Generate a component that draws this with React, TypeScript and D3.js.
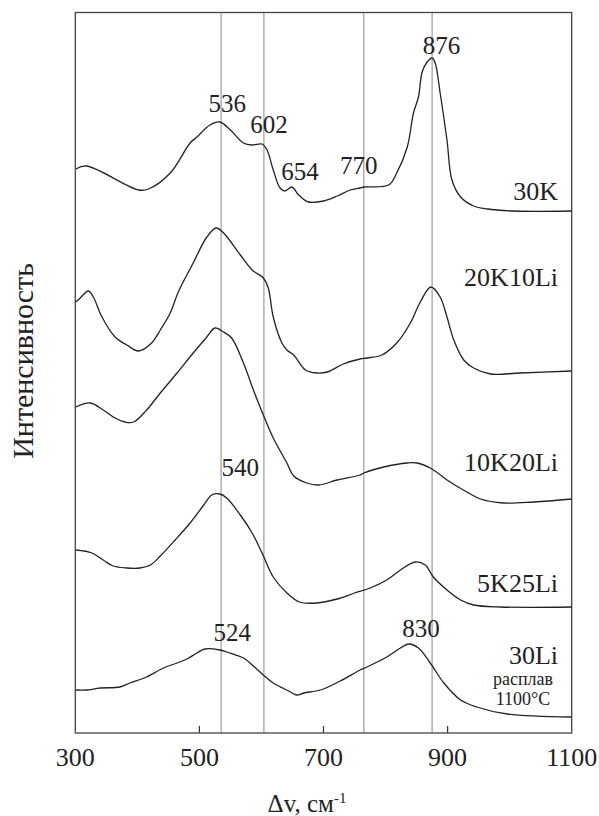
import React from "react";
import * as d3 from "d3";

// Raman shift (cm^-1) and relative intensity (arbitrary units, stacked offsets)
const x30K = [301, 318, 402, 418, 453, 485, 496, 517, 533, 550, 571, 585, 601, 609, 619, 630, 638, 649, 660, 676, 700, 722, 743, 759, 765, 805, 818, 835, 845, 853, 859, 867, 875, 880, 888, 899, 907, 921, 942, 964, 1007, 1100];
const y30K = [564, 567, 543, 544, 560, 590, 596, 608, 611, 603, 590, 588, 589, 583, 563, 545, 542, 546, 538, 531, 532, 537, 543, 545, 546, 548, 560, 586, 620, 636, 661, 671, 675, 670, 640, 593, 553, 536, 527, 524, 522, 522];

const x20K10Li = [301, 308, 321, 329, 343, 364, 383, 402, 423, 437, 453, 466, 490, 512, 527, 539, 566, 585, 603, 611, 619, 633, 641, 652, 671, 689, 706, 732, 759, 770, 794, 818, 840, 856, 873, 888, 899, 910, 926, 942, 969, 1017, 1100];
const y20K10Li = [431, 435, 442, 436, 416, 396, 388, 382, 390, 403, 420, 441, 470, 496, 505, 500, 478, 463, 455, 445, 416, 390, 383, 378, 363, 360, 361, 369, 374, 375, 378, 390, 410, 431, 446, 436, 416, 393, 373, 365, 359, 360, 362];

const x10K20Li = [301, 324, 345, 364, 380, 394, 415, 437, 464, 490, 512, 525, 539, 552, 571, 587, 603, 619, 641, 652, 673, 692, 722, 759, 765, 797, 835, 851, 872, 904, 931, 953, 990, 1039, 1100];
const y10K20Li = [326, 330, 323, 315, 311, 311, 323, 340, 360, 380, 396, 405, 401, 395, 370, 343, 318, 295, 270, 257, 250, 248, 253, 258, 260, 266, 270, 270, 265, 251, 241, 234, 230, 231, 234];

const x5K25Li = [301, 327, 345, 361, 383, 404, 421, 437, 461, 485, 507, 520, 533, 544, 566, 585, 601, 619, 641, 661, 689, 722, 750, 775, 802, 824, 848, 864, 877, 899, 921, 942, 985, 1100];
const y5K25Li = [183, 180, 173, 167, 165, 165, 168, 177, 193, 210, 228, 238, 239, 235, 218, 200, 180, 156, 140, 131, 130, 134, 140, 145, 153, 163, 171, 168, 156, 143, 133, 128, 126, 126];

const x30Li = [301, 318, 340, 372, 388, 415, 442, 464, 480, 496, 509, 533, 544, 571, 587, 603, 619, 644, 657, 668, 695, 727, 759, 770, 802, 824, 837, 853, 872, 894, 921, 947, 996, 1100];
const y30Li = [43, 43, 45, 46, 50, 56, 65, 70, 74, 80, 84, 83, 81, 75, 67, 58, 50, 42, 38, 40, 43, 52, 63, 66, 76, 85, 89, 85, 70, 50, 33, 26, 19, 16];

const seriesNames = ["30K", "20K10Li", "10K20Li", "5K25Li", "30Li"];
const seriesX = [x30K, x20K10Li, x10K20Li, x5K25Li, x30Li];
const seriesY = [y30K, y20K10Li, y10K20Li, y5K25Li, y30Li];

const refLines = [535, 604, 765, 875];
const xTicks = [300, 500, 700, 900, 1100];

// peak annotations: label, x position (cm^-1), intensity position
const peakLabels = ["536", "602", "654", "770", "876", "540", "524", "830"];
const peakX = [545, 612, 662, 757, 890, 566, 553, 857];
const peakY = [621, 600, 553, 559, 679, 257, 92, 96];

const W = 599;
const H = 816;
const left = 75.3;
const right = 571.7;
const top = 12.5;
const bottom = 733;

const FONT = '"Liberation Serif", "Times New Roman"';

export default function App() {
  const x = d3.scaleLinear().domain([300, 1100]).range([left, right]);
  const y = d3.scaleLinear().domain([0, 720]).range([bottom, bottom - 720]);
  const line = d3
    .line<[number, number]>()
    .x((d) => x(d[0]))
    .y((d) => y(d[1]))
    .curve(d3.curveCatmullRom.alpha(0.5));

  const labelBase = [200, 286, 471, 592, 663.5];
  const ts = { fontFamily: FONT };

  return (
    <svg width={W} height={H} style={{ position: "absolute", left: 0, top: 0 }}>
      {refLines.map((v) => (
        <line key={v} x1={x(v)} x2={x(v)} y1={top} y2={bottom} stroke="#8a8a8a" strokeWidth={1} />
      ))}
      {xTicks.slice(1, -1).map((t) => (
        <line key={"t" + t} x1={x(t)} x2={x(t)} y1={bottom} y2={bottom - 7} stroke="#333" strokeWidth={1.2} />
      ))}
      <rect x={left} y={top} width={right - left} height={bottom - top} fill="none" stroke="#444" strokeWidth={1.3} />
      {seriesNames.map((n, i) => {
        const pts = seriesX[i].map((v, j) => [v, seriesY[i][j]] as [number, number]);
        return <path key={n} d={line(pts) || ""} fill="none" stroke="#222" strokeWidth={1.3} />;
      })}
      {seriesNames.map((n, i) => (
        <text key={"l" + n} x={558} y={labelBase[i]} textAnchor="end" fontSize={26} fill="#222" style={ts}>
          {n}
        </text>
      ))}
      <text x={523} y={685} textAnchor="middle" fontSize={18} fill="#222" style={ts}>
        расплав
      </text>
      <text x={523} y={705} textAnchor="middle" fontSize={18} fill="#222" style={ts}>
        1100°C
      </text>
      {peakLabels.map((p, i) => (
        <text key={"p" + i} x={x(peakX[i])} y={y(peakY[i])} textAnchor="middle" fontSize={25} fill="#222" style={ts}>
          {p}
        </text>
      ))}
      {xTicks.map((t) => (
        <text key={"xl" + t} x={x(t)} y={766} textAnchor="middle" fontSize={26} fill="#222" style={ts}>
          {t}
        </text>
      ))}
      <text x={307} y={811.5} textAnchor="middle" fontSize={25} fill="#222" style={ts}>
        Δv, см<tspan dy={-9} fontSize={15}>-1</tspan>
      </text>
      <text transform={`translate(33,361) rotate(-90)`} textAnchor="middle" fontSize={30} fill="#222" style={ts}>
        Интенсивность
      </text>
    </svg>
  );
}
